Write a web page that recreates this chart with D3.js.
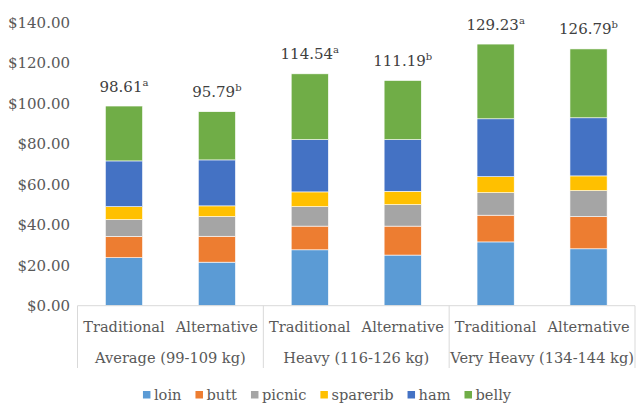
<!DOCTYPE html>
<html><head><meta charset="utf-8">
<script src="https://cdn.jsdelivr.net/npm/d3@7"></script>
<style>body{margin:0;background:#fff;}</style>
</head><body><svg id="c" width="636" height="405" font-family="DejaVu Serif"></svg>
<script>
const groups = ["Average (99-109 kg)", "Heavy (116-126 kg)", "Very Heavy (134-144 kg)"];
const treatments = ["Traditional", "Alternative"];
const parts = ["loin", "butt", "picnic", "sparerib", "ham", "belly"];
const colors = ["#5B9BD5", "#ED7D31", "#A5A5A5", "#FFC000", "#4472C4", "#70AD47"];
const loin     = [23.7, 21.5, 27.6, 25.0, 31.5, 28.1];
const butt     = [10.5, 12.8, 11.7, 14.3, 13.2, 15.9];
const picnic   = [8.3, 9.7, 9.6, 10.6, 11.1, 12.8];
const sparerib = [6.4, 5.3, 7.3, 6.6, 7.9, 7.3];
const ham      = [22.6, 22.7, 25.8, 25.5, 28.6, 28.7];
const belly    = [27.1, 23.8, 32.5, 29.2, 36.9, 34.0];
const totals   = ["98.61", "95.79", "114.54", "111.19", "129.23", "126.79"];
const letters  = ["a", "b", "a", "b", "a", "b"];
const yTicks   = [0, 20, 40, 60, 80, 100, 120, 140];

const FONT = "DejaVu Serif";
const FS = 15;
const seriesVals = [loin, butt, picnic, sparerib, ham, belly];
const bars = [];
groups.forEach((g, gi) => treatments.forEach((t, ti) => bars.push({id: gi * 2 + ti, group: g, treat: t})));
const rows = bars.map((b, i) => { const r = {id: b.id}; parts.forEach((p, k) => r[p] = seriesVals[k][i]); return r; });
const stacked = d3.stack().keys(parts)(rows);

const svg = d3.select("#c");
const L = 77.5, R = 635, T = 22.2, B = 305.7;
const x = d3.scaleBand().domain(bars.map(b => b.id)).range([L, R]).paddingInner(0.6).paddingOuter(0.3);
const xg = d3.scaleBand().domain(groups).range([L, R]);
const y = d3.scaleLinear().domain([0, 140]).range([B, T]);

const yAxis = d3.axisLeft(y).tickValues(yTicks).tickSize(0).tickPadding(0).tickFormat(d => "$" + d3.format(".2f")(d));
const ya = svg.append("g").attr("transform", `translate(70,0)`).call(yAxis).attr("font-family", FONT);
ya.select(".domain").remove();
ya.selectAll("text").attr("font-size", FS).attr("fill", "#595959");

svg.append("g").selectAll("g").data(stacked).join("g")
  .attr("fill", (d, i) => colors[i])
  .selectAll("rect").data(d => d).join("rect")
  .attr("x", d => x(d.data.id)).attr("width", x.bandwidth())
  .attr("y", d => y(d[1])).attr("height", d => y(d[0]) - y(d[1]))
  .attr("stroke", "#ffffff").attr("stroke-width", 0.6);

svg.append("line").attr("x1", L).attr("x2", R).attr("y1", B).attr("y2", B).attr("stroke", "#d9d9d9").attr("stroke-width", 1);
const seps = groups.map(g => xg(g)).concat([R]);
svg.append("g").selectAll("line").data(seps).join("line")
  .attr("x1", d => d).attr("x2", d => d).attr("y1", B).attr("y2", 368)
  .attr("stroke", "#d9d9d9").attr("stroke-width", 1);

svg.append("g").selectAll("text").data(bars).join("text")
  .attr("x", d => x(d.id) + x.bandwidth() / 2).attr("y", 327).attr("dy", "0.35em")
  .attr("text-anchor", "middle").attr("font-size", 14.6).attr("fill", "#595959").text(d => d.treat);
svg.append("g").selectAll("text").data(groups).join("text")
  .attr("x", d => xg(d) + xg.bandwidth() / 2).attr("y", 358).attr("dy", "0.35em")
  .attr("text-anchor", "middle").attr("font-size", 14.6).attr("fill", "#595959").text(d => d);

const tl = svg.append("g").selectAll("text").data(bars).join("text")
  .attr("x", d => x(d.id) + x.bandwidth() / 2)
  .attr("y", (d, i) => y(d3.sum(seriesVals, s => s[i])) - 14.5)
  .attr("text-anchor", "middle").attr("font-size", FS).attr("fill", "#404040");
tl.append("tspan").text((d, i) => totals[i]);
tl.append("tspan").attr("font-size", 10).attr("dy", -6).text((d, i) => letters[i]);

const lg = svg.append("g");
let lx = 0;
parts.forEach((p, i) => {
  lg.append("rect").attr("x", lx).attr("y", 391).attr("width", 7.5).attr("height", 7.5).attr("fill", colors[i]);
  const t = lg.append("text").attr("x", lx + 11).attr("y", 395).attr("dy", "0.35em")
    .attr("font-size", 14.6).attr("fill", "#595959").text(p);
  lx += 11 + t.node().getComputedTextLength() + (i < parts.length - 1 ? 14 : 0);
});
lg.attr("transform", `translate(${327 - lx / 2},0)`);
</script></body></html>
